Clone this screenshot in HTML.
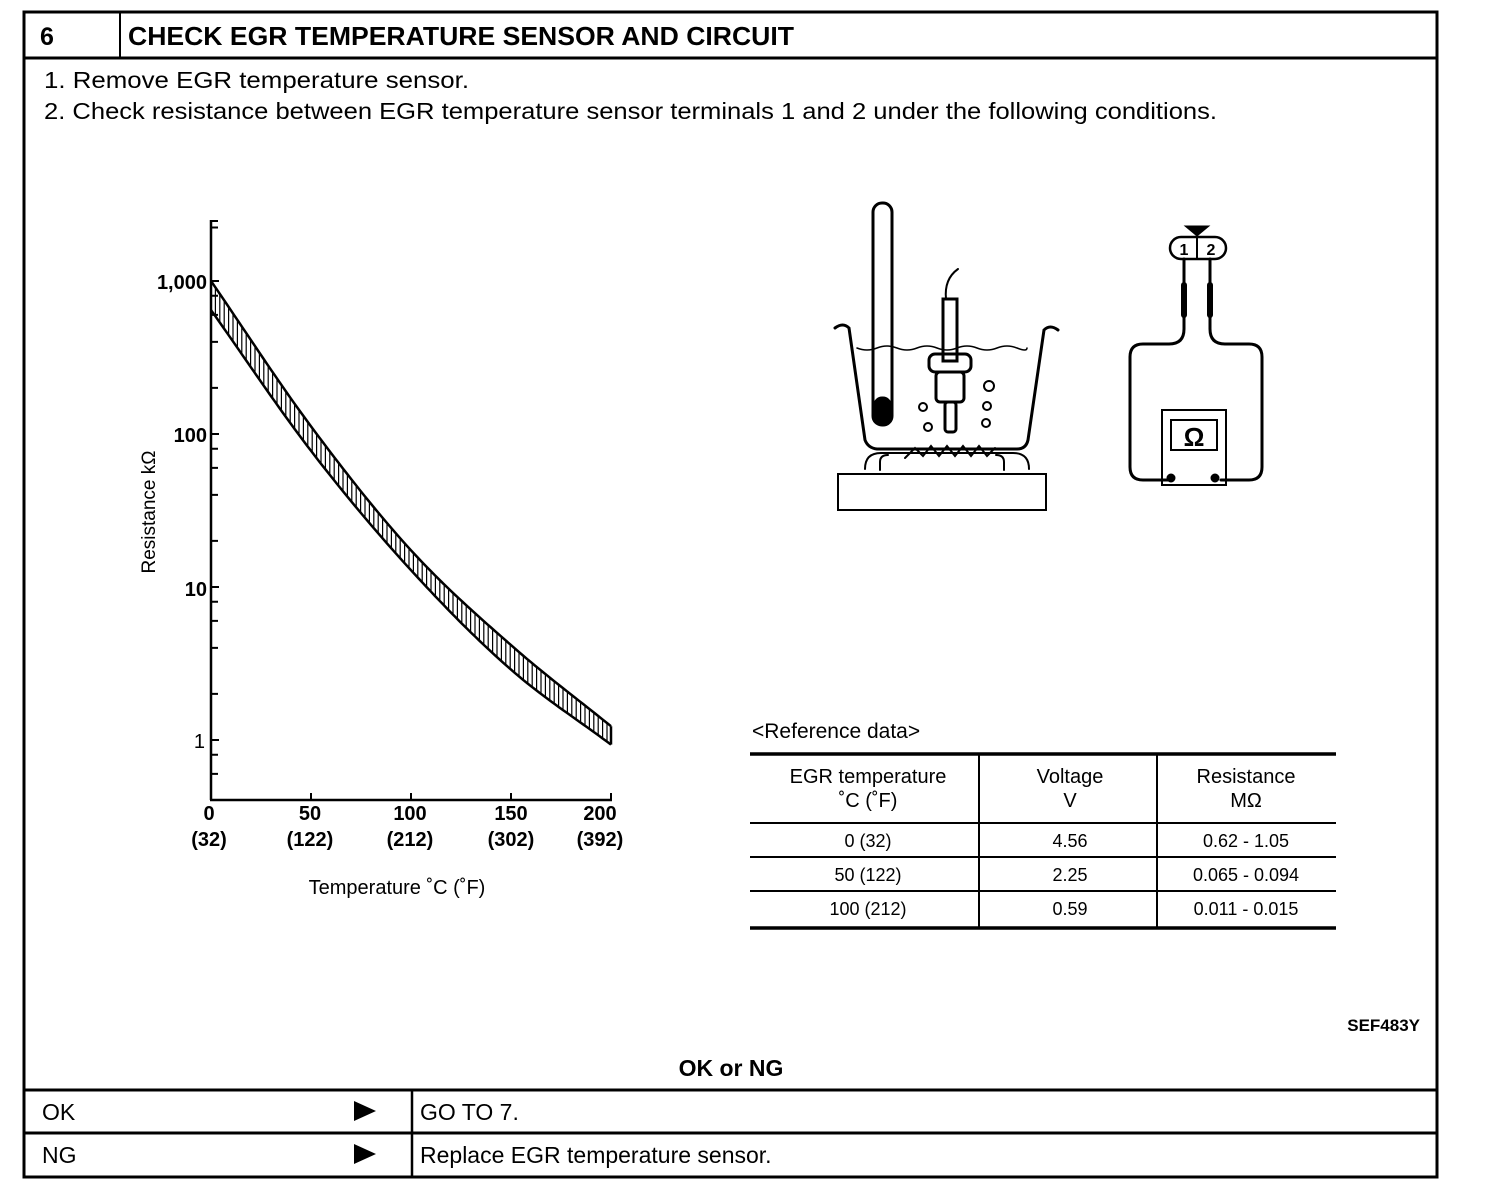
<!DOCTYPE html>
<html><head><meta charset="utf-8"><style>
html,body{margin:0;padding:0;background:#fff;}
svg{display:block;}
text{font-family:"Liberation Sans",Arial,sans-serif;fill:#000;}
</style></head><body>
<svg id="s" width="1504" height="1194" viewBox="0 0 1504 1194" xmlns="http://www.w3.org/2000/svg">
<rect x="24" y="12" width="1413" height="1165" fill="none" stroke="#000" stroke-width="3"/>
<line x1="24" y1="58" x2="1437" y2="58" stroke="#000" stroke-width="3"/>
<line x1="120" y1="12" x2="120" y2="58" stroke="#000" stroke-width="2"/>
<text x="40" y="45" font-size="25" font-weight="bold">6</text>
<text x="128" y="45" font-size="26" font-weight="bold" textLength="666" lengthAdjust="spacingAndGlyphs">CHECK EGR TEMPERATURE SENSOR AND CIRCUIT</text>
<text x="44" y="88" font-size="23" textLength="425" lengthAdjust="spacingAndGlyphs">1.  Remove EGR temperature sensor.</text>
<text x="44" y="119" font-size="23" textLength="1173" lengthAdjust="spacingAndGlyphs">2.  Check resistance between EGR temperature sensor terminals 1 and 2 under the following conditions.</text>

<g id="chart" stroke="#000" fill="none">
<line x1="211" y1="220" x2="211" y2="800" stroke-width="2.5"/>
<line x1="210" y1="800" x2="612" y2="800" stroke-width="2.5"/>
<line x1="211" y1="221" x2="218" y2="221" stroke-width="2"/>
</g>
<g font-weight="bold" font-size="20" text-anchor="end">
<text x="207" y="289">1,000</text>
<text x="207" y="442">100</text>
<text x="207" y="596">10</text>
<text x="205" y="748" font-weight="normal">1</text>
</g>
<text transform="translate(155,512) rotate(-90)" font-size="19" text-anchor="middle">Resistance kΩ</text>
<g font-weight="bold" font-size="20" text-anchor="middle">
<text x="209" y="820">0</text><text x="310" y="820">50</text><text x="410" y="820">100</text><text x="511" y="820">150</text><text x="600" y="820">200</text>
<text x="209" y="846">(32)</text><text x="310" y="846">(122)</text><text x="410" y="846">(212)</text><text x="511" y="846">(302)</text><text x="600" y="846">(392)</text>
</g>
<text x="397" y="894" font-size="20" text-anchor="middle">Temperature ˚C  (˚F)</text>
<g id="band"></g>

<g stroke="#000" fill="none" stroke-width="3" stroke-linecap="round">
<path d="M835 328 q8-6 14 0 l16 112 q3 8 12 9 l140 0 q9 0 11-9 l16-110 q6-6 14 0"/>
<path d="M857 348 q10 4 20 0 q10-4 20 0 q10 4 20 0 q10-4 20 0 q10 4 20 0 q10-4 20 0 q10 4 20 0 q10-4 20 0 q10 4 10 0" stroke-width="1.5"/>
<rect x="873" y="203" width="19" height="222" rx="9"/>
<rect x="875" y="398" width="15" height="26" rx="7" fill="#000"/>
<rect x="943" y="299" width="14" height="62"/>
<path d="M946 299 q-2-20 12-30" stroke-width="2"/>
<rect x="929" y="354" width="42" height="18" rx="6"/>
<rect x="936" y="372" width="28" height="30" rx="4"/>
<rect x="945" y="402" width="11" height="30" rx="3"/>
<path d="M865 469 q0-16 16-16 l132 0 q16 0 16 16 M880 470 l0-8 q0-7 8-7 M1004 470 l0-8 q0-7-8-7" stroke-width="2"/>
<path d="M905 458 l10-10 l8 8 l8-10 l8 10 l8-10 l8 10 l8-10 l8 10 l8-10 l8 10 l8-8" stroke-width="2"/>
<rect x="838" y="474" width="208" height="36" stroke-width="2"/>
<circle cx="989" cy="386" r="5" stroke-width="2"/><circle cx="987" cy="406" r="4" stroke-width="2"/><circle cx="986" cy="423" r="4" stroke-width="2"/><circle cx="923" cy="407" r="4" stroke-width="2"/><circle cx="928" cy="427" r="4" stroke-width="2"/>
</g>
<g stroke="#000" fill="none" stroke-width="3" stroke-linecap="round">
<rect x="1170" y="237" width="56" height="22" rx="11" stroke-width="2.5"/>
<line x1="1197" y1="237" x2="1197" y2="259" stroke-width="2"/>
<path d="M1185 226 l24 0 l-12 10 z" fill="#000" stroke-width="1"/>
<path d="M1184 259 l0 70 q0 15-15 15 l-26 0 q-13 0-13 13 l0 110 q0 13 13 13 l28 0"/>
<path d="M1210 259 l0 70 q0 15 15 15 l24 0 q13 0 13 13 l0 110 q0 13-13 13 l-28 0"/>
<line x1="1184" y1="285" x2="1184" y2="315" stroke-width="6"/>
<line x1="1210" y1="285" x2="1210" y2="315" stroke-width="6"/>
<rect x="1162" y="410" width="64" height="75" stroke-width="2"/>
<rect x="1171" y="420" width="46" height="30" stroke-width="2"/>
<circle cx="1171" cy="478" r="3" fill="#000"/><circle cx="1215" cy="478" r="3" fill="#000"/>
</g>
<text x="1194" y="446" font-size="26" font-weight="bold" text-anchor="middle">Ω</text>
<text x="1184" y="255" font-size="16" font-weight="bold" text-anchor="middle">1</text>
<text x="1211" y="255" font-size="16" font-weight="bold" text-anchor="middle">2</text>

<text x="752" y="738" font-size="21">&lt;Reference data&gt;</text>
<g stroke="#000">
<line x1="750" y1="754" x2="1336" y2="754" stroke-width="3.5"/>
<line x1="750" y1="823" x2="1336" y2="823" stroke-width="2"/>
<line x1="750" y1="857" x2="1336" y2="857" stroke-width="2"/>
<line x1="750" y1="891" x2="1336" y2="891" stroke-width="2"/>
<line x1="750" y1="928" x2="1336" y2="928" stroke-width="3.5"/>
<line x1="979" y1="754" x2="979" y2="928" stroke-width="2"/>
<line x1="1157" y1="754" x2="1157" y2="928" stroke-width="2"/>
</g>
<g font-size="20" text-anchor="middle">
<text x="868" y="783">EGR temperature</text><text x="868" y="807">˚C (˚F)</text>
<text x="1070" y="783">Voltage</text><text x="1070" y="807">V</text>
<text x="1246" y="783">Resistance</text><text x="1246" y="807">MΩ</text>
<g font-size="18">
<text x="868" y="847">0 (32)</text><text x="1070" y="847">4.56</text><text x="1246" y="847">0.62 - 1.05</text>
<text x="868" y="881">50 (122)</text><text x="1070" y="881">2.25</text><text x="1246" y="881">0.065 - 0.094</text>
<text x="868" y="915">100 (212)</text><text x="1070" y="915">0.59</text><text x="1246" y="915">0.011 - 0.015</text>
</g></g>
<text x="1420" y="1031" font-size="17" font-weight="bold" text-anchor="end">SEF483Y</text>
<text x="731" y="1076" font-size="23" font-weight="bold" text-anchor="middle">OK or NG</text>

<g stroke="#000">
<line x1="24" y1="1090" x2="1437" y2="1090" stroke-width="3"/>
<line x1="24" y1="1133" x2="1437" y2="1133" stroke-width="3"/>
<line x1="412" y1="1090" x2="412" y2="1177" stroke-width="2.5"/>
</g>
<g font-size="23">
<text x="42" y="1120">OK</text><text x="42" y="1163">NG</text>
<text x="420" y="1120">GO TO 7.</text><text x="420" y="1163">Replace EGR temperature sensor.</text>
</g>
<path d="M354 1101 l22 10 l-22 10 z M354 1144 l22 10 l-22 10 z" fill="#000"/>
</svg>
<script>
(function(){
var ns="http://www.w3.org/2000/svg",g=document.getElementById('band'),c=document.getElementById('chart');
function X(t){return 211+t*2.0;}
function Y(l){return 740-l*153;}
var U=[3.0,2.05,1.24,0.62,0.09],L=[2.81,1.89,1.11,0.46,-0.03];
function interp(A,t){var i=Math.min(3,Math.floor(t/50)),f=(t-i*50)/50;
 var p0=A[Math.max(0,i-1)],p1=A[i],p2=A[i+1],p3=A[Math.min(4,i+2)];
 if(i==0)p0=2*p1-p2; if(i==3)p3=2*p2-p1;
 return 0.5*((2*p1)+(-p0+p2)*f+(2*p0-5*p1+4*p2-p3)*f*f+(-p0+3*p1-3*p2+p3)*f*f*f);}
var up="",lo="";
for(var t=0;t<=200;t+=2){up+=(t?"L":"M")+X(t).toFixed(1)+" "+Y(interp(U,t)).toFixed(1);lo+=(t?"L":"M")+X(t).toFixed(1)+" "+Y(interp(L,t)).toFixed(1);}
function mk(d,w){var p=document.createElementNS(ns,'path');p.setAttribute('d',d);p.setAttribute('fill','none');p.setAttribute('stroke','#000');p.setAttribute('stroke-width',w);g.appendChild(p);}
mk(up,2.5);mk(lo,2.5);
var h="";for(var t=0;t<=200;t+=2.2){h+="M"+X(t).toFixed(1)+" "+Y(interp(U,t)).toFixed(1)+"L"+X(t).toFixed(1)+" "+Y(interp(L,t)).toFixed(1);}
mk(h,1.2);
mk("M"+X(200)+" "+Y(interp(U,200))+"L"+X(200)+" "+Y(interp(L,200)),2.5);
var ticks="";[[3,[0.8,0.6,0.4,0.2]],[2,[0.8,0.6,0.4,0.2]],[1,[0.8,0.6,0.4,0.2]],[0,[0.8,0.6]]].forEach(function(d){
 ticks+="M211 "+Y(d[0])+"L219 "+Y(d[0]);
 d[1].forEach(function(m){var y=Y(d[0]+Math.log10(m));ticks+="M211 "+y.toFixed(1)+"L218 "+y.toFixed(1);});});
ticks+="M211 "+Y(3.35)+"L218 "+Y(3.35);
[0,50,100,150,200].forEach(function(t){ticks+="M"+X(t)+" 800L"+X(t)+" 793";});
var p=document.createElementNS(ns,'path');p.setAttribute('d',ticks);p.setAttribute('stroke','#000');p.setAttribute('stroke-width','2');c.appendChild(p);
})();
</script>
</body></html>
